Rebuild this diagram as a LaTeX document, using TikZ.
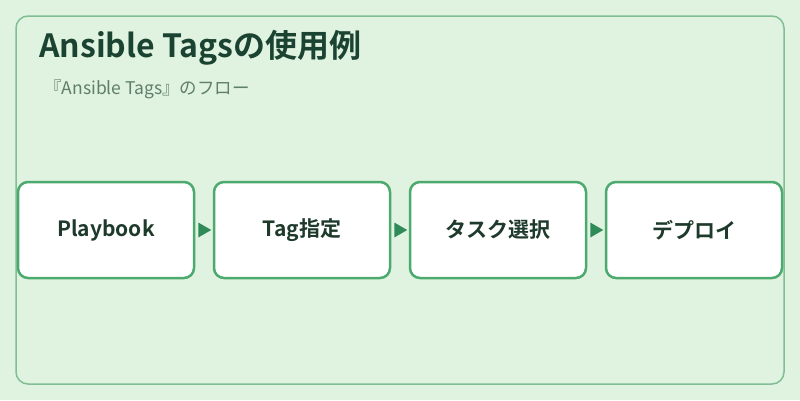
\documentclass[tikz,border=0pt]{standalone}
\usepackage{fontspec}
\setmainfont{Noto Sans CJK JP}
\newfontfamily\jpbold{Noto Sans CJK JP Bold}
\usetikzlibrary{arrows.meta}
\definecolor{bgc}{HTML}{E0F2E0}
\definecolor{framec}{HTML}{7FBF93}
\definecolor{boxc}{HTML}{4DAA6E}
\definecolor{arrc}{HTML}{2E8B57}
\definecolor{titlec}{HTML}{1B4332}
\definecolor{subc}{HTML}{5F7F6B}
\definecolor{txtc}{HTML}{1E3A2B}
\tikzset{
  stepbox/.style={draw=boxc, line width=2.5pt, fill=white, rounded corners=10pt,
    minimum width=176pt, minimum height=96pt, inner sep=0pt,
    font=\jpbold\fontsize{21}{24}\selectfont, text=txtc}
}
\begin{document}
\begin{tikzpicture}[x=1pt,y=-1pt]
\fill[bgc] (0,0) rectangle (800,400);
\useasboundingbox (0,0) rectangle (800,400);
\draw[framec, line width=1.5pt, rounded corners=12pt] (16,16) rectangle (784,384);
\node[anchor=base west, text=titlec, font=\jpbold\fontsize{32}{36}\selectfont, inner sep=0pt] (title) at (39,57) {Ansible Tagsの使用例};
\node[anchor=base west, text=subc, font=\fontsize{17.5}{20}\selectfont, inner sep=0pt] (sub) at (44,94) {『Ansible Tags』のフロー};
\node[stepbox] (a) at (106,230) {\raisebox{-2pt}{Playbook}};
\node[stepbox] (b) at (302,230) {\raisebox{-2pt}{Tag指定}};
\node[stepbox] (c) at (498,230) {\raisebox{-2pt}{タスク選択}};
\node[stepbox] (d) at (694,230) {\raisebox{-2pt}{デプロイ}};
\foreach \u/\v in {a/b,b/c,c/d}{
  \fill[arrc] ([xshift=3pt]\u.east) ++(0,-7.5) -- ++(13,7.5) -- ++(-13,7.5) -- cycle;
}
\end{tikzpicture}
\end{document}
